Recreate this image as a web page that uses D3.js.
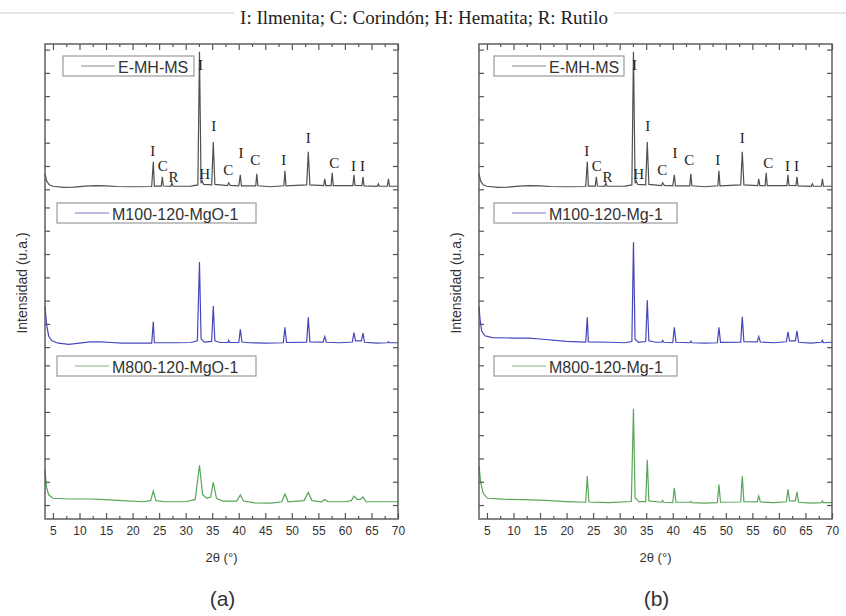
<!DOCTYPE html>
<html>
<head>
<meta charset="utf-8">
<script src="https://cdn.jsdelivr.net/npm/d3@7"></script>
<style>
  body { margin: 0; background: #fff; }
  text { fill: #333; }
</style>
</head>
<body>
<div id="chart"></div>
<script>
// ---- data ----
var xTickValues = [5, 10, 15, 20, 25, 30, 35, 40, 45, 50, 55, 60, 65, 70];
var xMinorValues = [7.5, 12.5, 17.5, 22.5, 27.5, 32.5, 37.5, 42.5, 47.5, 52.5, 57.5, 62.5, 67.5];

var namesA = ["E-MH-MS", "M100-120-MgO-1", "M800-120-MgO-1"];
var namesB = ["E-MH-MS", "M100-120-Mg-1", "M800-120-Mg-1"];

// stacked blocks (each series has its own tick block)
var blockOffset = [13.56, 6.78, 0];
var baseA = [0.11, 0.17, 0.14];
var baseB = [0.11, 0.19, 0.10];

// phase labels over the E-MH-MS pattern
var phaseLetters = ["I", "C", "R", "I", "H", "I", "C", "I", "C", "I", "I", "C", "I", "I"];
var phasePos =     [23.8, 25.7, 27.7, 32.8, 33.6, 35.3, 38.0, 40.4, 43.1, 48.5, 53.1, 58.0, 61.6, 63.3];
var phaseHeight =  [1.52, 0.90, 0.40, 5.22, 0.54, 2.60, 0.70, 1.45, 1.14, 1.16, 2.10, 1.02, 0.88, 0.88];

// [2theta, intensity above baseline]
var emhms = [[3.5,0.56],[3.8,0.25],[4.3,0.08],[5,0.02],[7,-0.03],[9,-0.02],[11,0.03],[13,0.05],[15,0.04],[17,0.01],[20,0],
  [23.6,0.01],[23.9,1.07],[24.1,0.03],[25.4,0.03],[25.6,0.43],[25.8,0.03],[27.2,0.02],[27.4,0.17],[27.6,0.02],[31,0.03],
  [32.3,0.08],[32.6,5.8],[32.9,0.15],[33.1,0.26],[33.4,0.1],[34.9,0.08],[35.2,1.92],[35.5,0.1],[37.9,0.05],[38.1,0.17],
  [38.4,0.06],[40.0,0.04],[40.3,0.51],[40.5,0.04],[43.2,0.04],[43.4,0.56],[43.6,0.04],[46,0.0],[48.5,0.04],[48.7,0.68],
  [48.9,0.04],[52.8,0.08],[53.1,1.5],[53.4,0.08],[56,0.05],[56.2,0.34],[56.4,0.05],[57.4,0.05],[57.6,0.6],[57.8,0.05],
  [61.5,0.05],[61.7,0.51],[61.9,0.06],[63.2,0.05],[63.4,0.43],[63.6,0.04],[66.1,0.02],[66.3,0.13],[66.5,0.02],[68,0.02],
  [68.2,0.34],[68.4,0.02],[70,0.02]];

var m100MgO = [[3.5,1.58],[3.8,0.8],[4.2,0.3],[4.8,0.1],[6,0.0],[8,-0.05],[10,0.0],[12,0.06],[14,0.06],[16,0.03],[18,0.0],
  [20,0.0],[23.6,0.0],[23.9,0.92],[24.1,0.02],[28,0.02],[31,0.03],[32.2,0.1],[32.6,3.49],[32.9,0.2],[33.2,0.12],[33.5,0.05],
  [34.9,0.08],[35.2,1.6],[35.5,0.1],[36.5,0.03],[38,0.03],[38.1,0.12],[38.3,0.03],[40.0,0.03],[40.3,0.6],[40.6,0.05],
  [42,0.02],[45,0.0],[48.4,0.02],[48.7,0.68],[49,0.03],[52.8,0.05],[53.1,1.11],[53.4,0.06],[55.9,0.05],[56.2,0.28],
  [56.5,0.04],[59,0.02],[61.4,0.05],[61.7,0.45],[62,0.1],[63.1,0.1],[63.4,0.43],[63.7,0.04],[66,0.0],[68,0.02],[68.2,0.06],
  [68.4,0.02],[70,0.02]];

var m800MgO = [[3.5,1.35],[3.8,0.6],[4.2,0.3],[5,0.15],[8,0.12],[12,0.12],[14,0.1],[18,0.05],[22,0.0],[23.4,0.05],[23.9,0.46],
  [24.4,0.05],[26,0.0],[30,0.0],[31.8,0.1],[32.6,1.57],[33.2,0.3],[34,0.15],[34.7,0.2],[35.2,0.83],[35.8,0.15],[37,0.03],
  [39.6,0.03],[40.3,0.29],[40.9,0.03],[43,-0.05],[46,-0.06],[48.1,0.0],[48.7,0.33],[49.3,0.0],[52.3,0.05],[53.1,0.4],
  [53.8,0.05],[55.6,0.0],[56.2,0.1],[56.8,0.0],[60,0.0],[61.2,0.05],[61.7,0.24],[62.3,0.1],[62.9,0.1],[63.4,0.21],[64,0.0],
  [70,0.0]];

var m100Mg = [[3.5,1.55],[3.7,1.0],[4.0,0.5],[4.6,0.3],[6,0.22],[10,0.2],[13,0.2],[15,0.16],[20,0.06],[23.6,0.03],[23.9,1.09],
  [24.1,0.04],[28,0.02],[31,0.0],[32.3,0.05],[32.6,4.32],[32.9,0.15],[33.2,0.1],[33.5,0.02],[34.9,0.05],[35.2,1.82],
  [35.5,0.08],[36.8,0.02],[37.9,0.02],[38.1,0.1],[38.3,0.02],[40.0,0.0],[40.3,0.66],[40.6,0.02],[43.2,0.0],[43.4,0.07],
  [43.6,0.0],[46,-0.02],[48.4,0.0],[48.7,0.66],[49,0.02],[52.8,0.03],[53.1,1.11],[53.4,0.05],[55.9,0.04],[56.2,0.26],
  [56.5,0.03],[59,0.0],[61.4,0.04],[61.7,0.47],[62,0.08],[63.1,0.08],[63.4,0.51],[63.7,0.02],[66,-0.02],[68,0.02],
  [68.2,0.1],[68.4,0.0],[70,0.02]];

var m800Mg = [[3.5,1.61],[3.8,0.9],[4.3,0.4],[5.1,0.19],[8,0.15],[12,0.13],[16,0.1],[20,0.05],[23.6,0.02],[23.9,1.15],
  [24.2,0.03],[28,0.0],[32.2,0.05],[32.6,4.03],[32.9,0.2],[33.2,0.15],[33.6,0.05],[34.9,0.05],[35.2,1.84],[35.5,0.08],
  [37.9,0.02],[38.1,0.1],[38.3,0.02],[40.0,0.0],[40.3,0.64],[40.6,0.02],[43.2,0.02],[43.4,0.06],[43.6,0.0],[46,-0.02],
  [48.4,0.0],[48.7,0.78],[49,0.02],[52.8,0.03],[53.1,1.15],[53.4,0.05],[55.9,0.04],[56.2,0.29],[56.5,0.03],[59,0.0],
  [61.4,0.04],[61.7,0.57],[62,0.08],[63.1,0.08],[63.4,0.47],[63.7,0.02],[66,-0.02],[68,0.0],[68.2,0.08],[68.4,0.0],[70,0.0]];

// ---- drawing ----
var W = 846, H = 616;
var colors = ["#505050", "#4646bb", "#58a658"];
var legendColors = ["#8a8a8a", "#7a7ad0", "#7ab87a"];

var svg = d3.select("#chart").append("svg")
  .attr("width", W).attr("height", H)
  .style("font-family", "Liberation Sans, Arial, sans-serif");

// title with faint rule behind it
var title = svg.append("text")
  .attr("x", 424).attr("y", 24)
  .attr("text-anchor", "middle")
  .style("font-family", "Liberation Serif, Times New Roman, serif")
  .style("font-size", "19px")
  .style("fill", "#222")
  .text("I: Ilmenita; C: Corindón; H: Hematita; R: Rutilo");
var tw = title.node().getComputedTextLength();
svg.insert("line", "text").attr("x1", 0).attr("x2", 424 - tw / 2 - 6).attr("y1", 13).attr("y2", 13)
  .style("stroke", "#ddd").style("stroke-width", 1.5);
svg.insert("line", "text").attr("x1", 424 + tw / 2 + 6).attr("x2", W).attr("y1", 13).attr("y2", 13)
  .style("stroke", "#ddd").style("stroke-width", 1.5);

function drawPanel(opts) {
  var x0 = opts.x0, x1 = opts.x1, y0 = 44, y1 = 519;

  var x = d3.scaleLinear().domain([3.5, 70]).range([x0, x1]);
  var y = d3.scaleLinear().domain([-0.6, 19.8]).range([y1, y0]);

  var g = svg.append("g");

  // traces
  var line = d3.line()
    .x(function(d) { return x(d[0]); })
    .y(function(d) { return y(d[1]); });

  opts.series.forEach(function(s, i) {
    var pts = s.map(function(d) { return [d[0], blockOffset[i] + opts.base[i] + d[1]]; });
    g.append("path")
      .datum(pts)
      .attr("d", line)
      .style("fill", "none")
      .style("stroke", colors[i])
      .style("stroke-width", 1.2);
  });

  // phase letters
  g.selectAll(".phase")
    .data(phaseLetters)
    .enter()
    .append("text")
      .attr("class", "phase")
      .attr("x", function(d, i) { return x(phasePos[i]); })
      .attr("y", function(d, i) { return y(blockOffset[0] + opts.base[0] + phaseHeight[i]); })
      .attr("text-anchor", "middle")
      .attr("dominant-baseline", "central")
      .style("font-family", "Liberation Serif, Times New Roman, serif")
      .style("font-size", "15px")
      .style("fill", "#222")
      .text(function(d) { return d; });

  // frame
  g.append("rect")
    .attr("x", x0).attr("y", y0)
    .attr("width", x1 - x0).attr("height", y1 - y0)
    .style("fill", "none")
    .style("stroke", "#555")
    .style("stroke-width", 1.4);

  // x ticks (inward)
  var xb = g.append("g").attr("transform", "translate(0," + y1 + ")")
    .call(d3.axisBottom(x).tickValues(xTickValues).tickSize(-6).tickPadding(7).tickFormat(d3.format("d")));
  xb.selectAll("text").style("font-size", "12px").style("fill", "#333");
  g.append("g").attr("transform", "translate(0," + y1 + ")")
    .call(d3.axisBottom(x).tickValues(xMinorValues).tickSize(-3).tickFormat(""));
  g.append("g").attr("transform", "translate(0," + y0 + ")")
    .call(d3.axisTop(x).tickValues(xTickValues).tickSize(-6).tickFormat(""));
  g.append("g").attr("transform", "translate(0," + y0 + ")")
    .call(d3.axisTop(x).tickValues(xMinorValues).tickSize(-3).tickFormat(""));

  // y ticks, one block per stacked pattern
  var yt = [];
  blockOffset.forEach(function(o) {
    for (var k = 0; k < 7; k++) { if (o + k < 19.8) yt.push(o + k); }
  });
  g.append("g").attr("transform", "translate(" + x0 + ",0)")
    .call(d3.axisLeft(y).tickValues(yt).tickSize(-5).tickFormat(""));
  g.append("g").attr("transform", "translate(" + x1 + ",0)")
    .call(d3.axisRight(y).tickValues(yt).tickSize(-5).tickFormat(""));

  g.selectAll(".domain").remove();
  g.selectAll(".tick line").style("stroke", "#555").style("stroke-width", 1.2);

  // legends
  opts.legends.forEach(function(b, i) {
    var lg = g.append("g");
    lg.append("rect")
      .attr("x", b[0]).attr("y", b[1]).attr("width", b[2]).attr("height", 20)
      .style("fill", "#fff").style("stroke", "#999").style("stroke-width", 1.2);
    lg.append("line")
      .attr("x1", b[0] + 18).attr("x2", b[0] + 52)
      .attr("y1", b[1] + 10).attr("y2", b[1] + 10)
      .style("stroke", legendColors[i]).style("stroke-width", 1.2);
    lg.append("text")
      .attr("x", b[0] + 55).attr("y", b[1] + 11)
      .attr("dominant-baseline", "central")
      .style("font-size", "16px")
      .style("fill", "#333")
      .text(opts.names[i]);
  });

  // axis titles
  g.append("text")
    .attr("transform", "translate(" + opts.ylabX + ",283) rotate(-90)")
    .attr("text-anchor", "middle")
    .attr("dominant-baseline", "central")
    .style("font-size", "14px")
    .text("Intensidad (u.a.)");

  g.append("text")
    .attr("x", (x0 + x1) / 2).attr("y", 557)
    .attr("text-anchor", "middle")
    .attr("dominant-baseline", "central")
    .style("font-size", "13px")
    .text("2θ (°)");

  g.append("text")
    .attr("x", (x0 + x1) / 2 + 1).attr("y", 598)
    .attr("text-anchor", "middle")
    .attr("dominant-baseline", "central")
    .style("font-size", "21px")
    .text(opts.tag);
}

drawPanel({
  x0: 45, x1: 398, ylabX: 22, tag: "(a)",
  series: [emhms, m100MgO, m800MgO], base: baseA, names: namesA,
  legends: [[63, 56, 131], [57, 203, 199], [57, 356, 199]]
});

drawPanel({
  x0: 479, x1: 832, ylabX: 456, tag: "(b)",
  series: [emhms, m100Mg, m800Mg], base: baseB, names: namesB,
  legends: [[494, 56, 130], [494, 203, 183], [494, 356, 183]]
});
</script>
</body>
</html>
